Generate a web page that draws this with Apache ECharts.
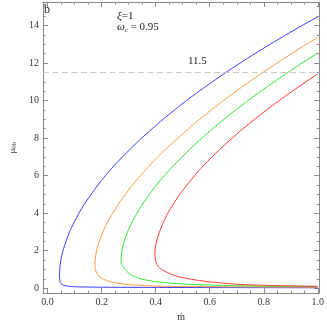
<!DOCTYPE html>
<html><head><meta charset="utf-8">
<script src="https://cdn.jsdelivr.net/npm/echarts@6/dist/echarts.min.js"></script>
<style>html,body{margin:0;padding:0;background:#fff}#c{width:327px;height:327px}</style>
</head><body><div id="c"></div>
<script>
// ---- data ----
const xTickLabels = [0, 0.2, 0.4, 0.6, 0.8, 1.0];
const xMinorTicks = [0.05,0.1,0.15,0.25,0.3,0.35,0.45,0.5,0.55,0.65,0.7,0.75,0.85,0.9,0.95];
const yTickLabels = [0, 2, 4, 6, 8, 10, 12, 14];
const yMinorTicks = [0.5,1,1.5,2.5,3,3.5,4.5,5,5.5,6.5,7,7.5,8.5,9,9.5,10.5,11,11.5,12.5,13,13.5,14.5,15];
const refLine = 11.5;

const blueX = [1.0, 0.942, 0.882, 0.824, 0.767, 0.713, 0.660, 0.610, 0.561, 0.514, 0.470, 0.427, 0.387, 0.348, 0.312, 0.277, 0.244, 0.214, 0.186, 0.161, 0.137, 0.116, 0.098, 0.081, 0.068, 0.057, 0.049, 0.045, 0.044, 0.045, 0.047, 0.053, 0.065, 0.085, 0.12, 0.2, 0.35, 0.6, 0.8, 1.0];
const blueY = [14.46, 14, 13.5, 13, 12.5, 12, 11.5, 11, 10.5, 10, 9.5, 9, 8.5, 8, 7.5, 7, 6.5, 6, 5.5, 5, 4.5, 4, 3.5, 3, 2.5, 2, 1.5, 1.0, 0.7, 0.45, 0.3, 0.2, 0.13, 0.09, 0.07, 0.055, 0.045, 0.035, 0.03, 0.025];

const orangeX = [1.0, 0.958, 0.903, 0.849, 0.797, 0.746, 0.698, 0.651, 0.606, 0.563, 0.521, 0.482, 0.444, 0.408, 0.375, 0.344, 0.314, 0.288, 0.263, 0.241, 0.221, 0.205, 0.191, 0.181, 0.176, 0.175, 0.176, 0.179, 0.185, 0.195, 0.208, 0.225, 0.248, 0.28, 0.318, 0.37, 0.434, 0.55, 0.7, 0.85, 1.0];
const orangeY = [13.36, 13, 12.5, 12, 11.5, 11, 10.5, 10, 9.5, 9, 8.5, 8, 7.5, 7, 6.5, 6, 5.5, 5, 4.5, 4, 3.5, 3, 2.5, 2, 1.5, 1.3, 1.1, 0.9, 0.73, 0.58, 0.47, 0.38, 0.30, 0.22, 0.17, 0.13, 0.10, 0.085, 0.075, 0.065, 0.06];

const greenX = [1.0, 0.942, 0.890, 0.839, 0.789, 0.742, 0.696, 0.653, 0.611, 0.571, 0.533, 0.498, 0.464, 0.432, 0.403, 0.377, 0.352, 0.331, 0.312, 0.296, 0.2835, 0.275, 0.272, 0.273, 0.277, 0.283, 0.293, 0.307, 0.328, 0.353, 0.39, 0.434, 0.516, 0.6, 0.7, 0.85, 1.0];
const greenY = [12.53, 12, 11.5, 11, 10.5, 10, 9.5, 9, 8.5, 8, 7.5, 7, 6.5, 6, 5.5, 5, 4.5, 4, 3.5, 3, 2.5, 2, 1.6, 1.35, 1.2, 1.08, 0.9, 0.73, 0.58, 0.47, 0.37, 0.30, 0.21, 0.17, 0.13, 0.105, 0.09];

const redX = [1.0, 0.956, 0.906, 0.857, 0.810, 0.766, 0.723, 0.683, 0.645, 0.609, 0.575, 0.544, 0.516, 0.489, 0.466, 0.445, 0.428, 0.414, 0.403, 0.398, 0.397, 0.398, 0.401, 0.405, 0.413, 0.422, 0.434, 0.455, 0.481, 0.515, 0.551, 0.6, 0.65, 0.713, 0.8, 0.9, 1.0];
const redY = [11.42, 11, 10.5, 10, 9.5, 9, 8.5, 8, 7.5, 7, 6.5, 6, 5.5, 5, 4.5, 4, 3.5, 3, 2.5, 2.1, 1.86, 1.6, 1.4, 1.25, 1.1, 1.0, 0.90, 0.76, 0.63, 0.52, 0.43, 0.34, 0.27, 0.2, 0.155, 0.125, 0.10];

const seriesNames = ['blue', 'orange', 'green', 'red'];
const seriesColors = ['#3b3bff', '#ff9a3c', '#30e830', '#ff3535'];
const seriesXs = [blueX, orangeX, greenX, redX];
const seriesYs = [blueY, orangeY, greenY, redY];

// ---- chart ----
const XMIN = -0.0174, XMAX = 1.005, YMIN = -0.26, YMAX = 15.25;
const frame = '#8a8a8a';
const font = "'Liberation Serif', 'DejaVu Serif', serif";

function xAx(pos, major, showLabel) {
  return {
    type: 'value', position: pos, min: XMIN, max: XMAX,
    axisLine: { show: major, onZero: false, lineStyle: { color: frame, width: 1 } },
    axisTick: { show: true, inside: true, length: major ? 5 : 2.5,
      customValues: major ? xTickLabels : xMinorTicks, lineStyle: { color: frame, width: 1 } },
    axisLabel: { show: showLabel, customValues: xTickLabels, margin: 4,
      formatter: v => v.toFixed(1), color: '#333', fontFamily: font, fontSize: 10 },
    splitLine: { show: false }
  };
}
function yAx(pos, major, showLabel) {
  return {
    type: 'value', position: pos, min: YMIN, max: YMAX,
    axisLine: { show: major, onZero: false, lineStyle: { color: frame, width: 1 } },
    axisTick: { show: true, inside: true, length: major ? 5 : 2.5,
      customValues: major ? yTickLabels : yMinorTicks, lineStyle: { color: frame, width: 1 } },
    axisLabel: { show: showLabel, customValues: yTickLabels, margin: 4,
      formatter: v => String(v), color: '#333', fontFamily: font, fontSize: 10 },
    splitLine: { show: false }
  };
}

const xAxes = [xAx('bottom', true, true), xAx('bottom', false, false), xAx('top', true, false), xAx('top', false, false)];
xAxes[0].name = 'ṁ';
xAxes[0].nameLocation = 'middle';
xAxes[0].nameGap = 18;
xAxes[0].nameTextStyle = { fontFamily: font, fontSize: 10, color: '#333' };
const yAxes = [yAx('left', true, true), yAx('left', false, false), yAx('right', true, false), yAx('right', false, false)];
yAxes[0].name = '{a|μ}{s|0b}';
yAxes[0].nameLocation = 'middle';
yAxes[0].nameGap = 14;
yAxes[0].nameRotate = 90;
yAxes[0].nameTextStyle = { rich: {
  a: { fontFamily: font, fontSize: 9, color: '#333' },
  s: { fontFamily: font, fontSize: 7, color: '#333', verticalAlign: 'bottom', padding: [4, 0, 0, 0] } } };

const series = seriesNames.map((n, i) => ({
  name: n, type: 'line', xAxisIndex: 0, yAxisIndex: 0,
  data: seriesXs[i].map((x, j) => [x, seriesYs[i][j]]),
  smooth: 0.25, showSymbol: false, symbol: 'none',
  lineStyle: { color: seriesColors[i], width: 1 }, animation: false, z: 3
}));
series.push({
  type: 'line', data: [], xAxisIndex: 0, yAxisIndex: 0, animation: false,
  markLine: { silent: true, symbol: 'none', animation: false,
    lineStyle: { color: '#c9c9c9', type: [6, 3.5], width: 1.2 },
    label: { show: false }, data: [{ yAxis: refLine }] }
});

const chart = echarts.init(document.getElementById('c'), null, { renderer: 'canvas' });
chart.setOption({
  animation: false,
  backgroundColor: '#fff',
  grid: { left: 27, right: 6, top: 2, bottom: 28, containLabel: false },
  xAxis: xAxes, yAxis: yAxes, series: series,
  graphic: [
    { type: 'text', left: 44, top: 4, style: { text: 'b', font: '12px ' + font, fill: '#222' } },
    { type: 'text', left: 117, top: 11, style: { text: '{i|ξ}=1', rich: { i: { fontStyle: 'italic', fontFamily: font, fontSize: 11 } }, font: '11px ' + font, fill: '#222' } },
    { type: 'text', left: 117, top: 22, style: { text: '{i|ω}{s|c} = 0.95', rich: { i: { fontStyle: 'italic', fontFamily: font, fontSize: 11 }, s: { fontFamily: font, fontSize: 7, padding: [5, 0, 0, 0] } }, font: '11px ' + font, fill: '#222' } },
    { type: 'text', left: 188, top: 56, style: { text: String(refLine), font: '11px ' + font, fill: '#222' } }
  ]
});
</script></body></html>
